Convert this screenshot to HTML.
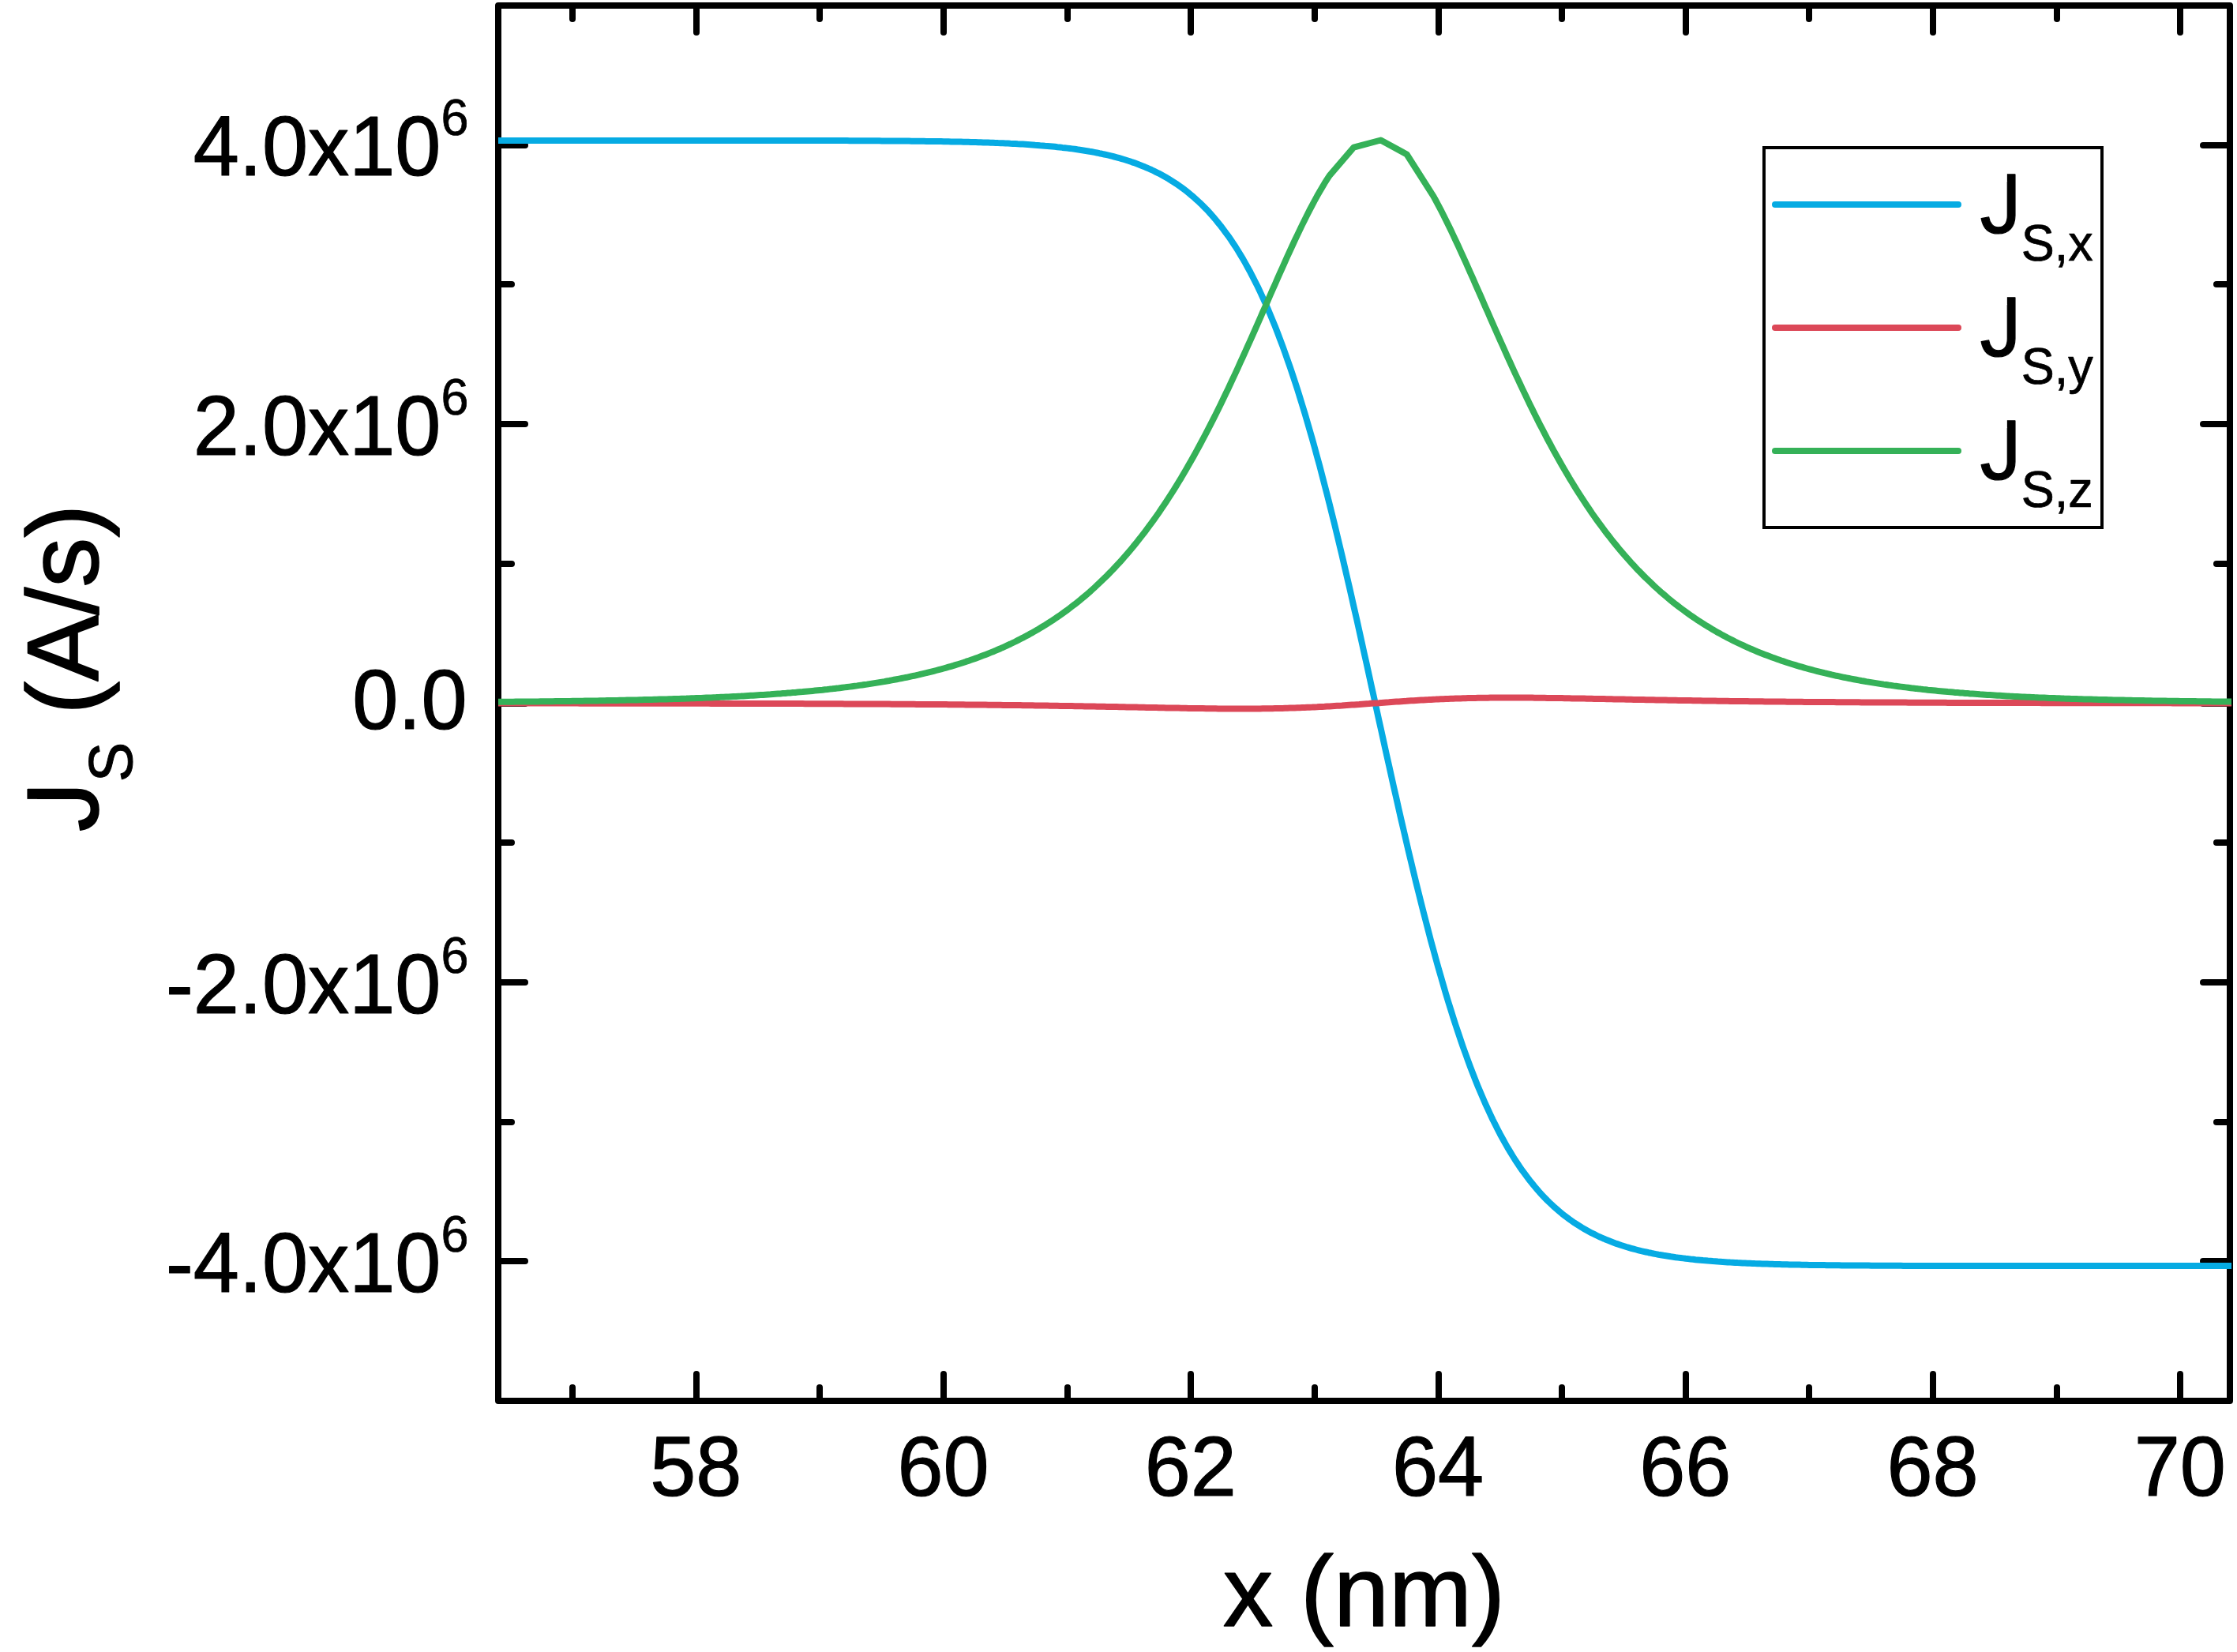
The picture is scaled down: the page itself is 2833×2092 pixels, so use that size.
<!DOCTYPE html>
<html><head><meta charset="utf-8"><title>J_S vs x</title>
<style>html,body{margin:0;padding:0;background:#fff;}svg{display:block;}</style></head>
<body>
<svg width="2833" height="2092" viewBox="0 0 2833 2092">
<rect x="0" y="0" width="2833" height="2092" fill="#ffffff"/>
<g stroke="#000" stroke-width="8" fill="none" stroke-linecap="round" stroke-linejoin="round">
<rect x="631.0" y="7.0" width="2193.0" height="1767.0"/>
<line x1="725.00" y1="1774.0" x2="725.00" y2="1757.0"/>
<line x1="725.00" y1="7.0" x2="725.00" y2="24.0"/>
<line x1="882.00" y1="1774.0" x2="882.00" y2="1740.0"/>
<line x1="882.00" y1="7.0" x2="882.00" y2="41.0"/>
<line x1="1038.00" y1="1774.0" x2="1038.00" y2="1757.0"/>
<line x1="1038.00" y1="7.0" x2="1038.00" y2="24.0"/>
<line x1="1195.00" y1="1774.0" x2="1195.00" y2="1740.0"/>
<line x1="1195.00" y1="7.0" x2="1195.00" y2="41.0"/>
<line x1="1352.00" y1="1774.0" x2="1352.00" y2="1757.0"/>
<line x1="1352.00" y1="7.0" x2="1352.00" y2="24.0"/>
<line x1="1508.00" y1="1774.0" x2="1508.00" y2="1740.0"/>
<line x1="1508.00" y1="7.0" x2="1508.00" y2="41.0"/>
<line x1="1665.00" y1="1774.0" x2="1665.00" y2="1757.0"/>
<line x1="1665.00" y1="7.0" x2="1665.00" y2="24.0"/>
<line x1="1822.00" y1="1774.0" x2="1822.00" y2="1740.0"/>
<line x1="1822.00" y1="7.0" x2="1822.00" y2="41.0"/>
<line x1="1978.00" y1="1774.0" x2="1978.00" y2="1757.0"/>
<line x1="1978.00" y1="7.0" x2="1978.00" y2="24.0"/>
<line x1="2135.00" y1="1774.0" x2="2135.00" y2="1740.0"/>
<line x1="2135.00" y1="7.0" x2="2135.00" y2="41.0"/>
<line x1="2291.00" y1="1774.0" x2="2291.00" y2="1757.0"/>
<line x1="2291.00" y1="7.0" x2="2291.00" y2="24.0"/>
<line x1="2448.00" y1="1774.0" x2="2448.00" y2="1740.0"/>
<line x1="2448.00" y1="7.0" x2="2448.00" y2="41.0"/>
<line x1="2605.00" y1="1774.0" x2="2605.00" y2="1757.0"/>
<line x1="2605.00" y1="7.0" x2="2605.00" y2="24.0"/>
<line x1="2761.00" y1="1774.0" x2="2761.00" y2="1740.0"/>
<line x1="2761.00" y1="7.0" x2="2761.00" y2="41.0"/>
<line x1="631.0" y1="1597.00" x2="665.0" y2="1597.00"/>
<line x1="2824.0" y1="1597.00" x2="2790.0" y2="1597.00"/>
<line x1="631.0" y1="1421.00" x2="648.0" y2="1421.00"/>
<line x1="2824.0" y1="1421.00" x2="2807.0" y2="1421.00"/>
<line x1="631.0" y1="1244.00" x2="665.0" y2="1244.00"/>
<line x1="2824.0" y1="1244.00" x2="2790.0" y2="1244.00"/>
<line x1="631.0" y1="1067.00" x2="648.0" y2="1067.00"/>
<line x1="2824.0" y1="1067.00" x2="2807.0" y2="1067.00"/>
<line x1="631.0" y1="891.00" x2="665.0" y2="891.00"/>
<line x1="2824.0" y1="891.00" x2="2790.0" y2="891.00"/>
<line x1="631.0" y1="714.00" x2="648.0" y2="714.00"/>
<line x1="2824.0" y1="714.00" x2="2807.0" y2="714.00"/>
<line x1="631.0" y1="537.00" x2="665.0" y2="537.00"/>
<line x1="2824.0" y1="537.00" x2="2790.0" y2="537.00"/>
<line x1="631.0" y1="360.00" x2="648.0" y2="360.00"/>
<line x1="2824.0" y1="360.00" x2="2807.0" y2="360.00"/>
<line x1="631.0" y1="184.00" x2="665.0" y2="184.00"/>
<line x1="2824.0" y1="184.00" x2="2790.0" y2="184.00"/>
</g>
<clipPath id="cp"><rect x="631.0" y="7.0" width="2195.0" height="1767.0"/></clipPath>
<g clip-path="url(#cp)" fill="none" stroke-width="8" stroke-linejoin="round" stroke-linecap="butt">
<path d="M568.6,177.9 L571.7,177.9 L574.8,177.9 L578.0,177.9 L581.1,177.9 L584.2,177.9 L587.4,177.9 L590.5,177.9 L593.6,177.9 L596.8,177.9 L599.9,177.9 L603.0,177.9 L606.1,177.9 L609.3,177.9 L612.4,177.9 L615.5,177.9 L618.7,177.9 L621.8,177.9 L624.9,177.9 L628.1,177.9 L631.2,177.9 L634.3,177.9 L637.5,177.9 L640.6,177.9 L643.7,177.9 L646.9,177.9 L650.0,177.9 L653.1,177.9 L656.3,177.9 L659.4,177.9 L662.5,177.9 L665.7,177.9 L668.8,177.9 L671.9,177.9 L675.1,177.9 L678.2,177.9 L681.3,177.9 L684.5,177.9 L687.6,177.9 L690.7,177.9 L693.9,177.9 L697.0,177.9 L700.1,177.9 L703.3,177.9 L706.4,177.9 L709.5,177.9 L712.7,177.9 L715.8,177.9 L718.9,177.9 L722.0,177.9 L725.2,177.9 L728.3,177.9 L731.4,177.9 L734.6,177.9 L737.7,177.9 L740.8,177.9 L744.0,177.9 L747.1,177.9 L750.2,177.9 L753.4,177.9 L756.5,177.9 L759.6,177.9 L762.8,177.9 L765.9,177.9 L769.0,177.9 L772.2,177.9 L775.3,177.9 L778.4,177.9 L781.6,177.9 L784.7,177.9 L787.8,177.9 L791.0,177.9 L794.1,177.9 L797.2,177.9 L800.4,177.9 L803.5,177.9 L806.6,177.9 L809.8,177.9 L812.9,177.9 L816.0,177.9 L819.2,177.9 L822.3,177.9 L825.4,177.9 L828.5,177.9 L831.7,177.9 L834.8,177.9 L837.9,177.9 L841.1,177.9 L844.2,177.9 L847.3,177.9 L850.5,177.9 L853.6,177.9 L856.7,177.9 L859.9,177.9 L863.0,177.9 L866.1,177.9 L869.3,177.9 L872.4,177.9 L875.5,177.9 L878.7,177.9 L881.8,177.9 L884.9,177.9 L888.1,177.9 L891.2,177.9 L894.3,177.9 L897.5,177.9 L900.6,177.9 L903.7,177.9 L906.9,177.9 L910.0,177.9 L913.1,177.9 L916.3,177.9 L919.4,177.9 L922.5,177.9 L925.7,177.9 L928.8,177.9 L931.9,177.9 L935.1,177.9 L938.2,177.9 L941.3,177.9 L944.4,177.9 L947.6,177.9 L950.7,177.9 L953.8,177.9 L957.0,177.9 L960.1,177.9 L963.2,177.9 L966.4,177.9 L969.5,177.9 L972.6,177.9 L975.8,177.9 L978.9,178.0 L982.0,178.0 L985.2,178.0 L988.3,178.0 L991.4,178.0 L994.6,178.0 L997.7,178.0 L1000.8,178.0 L1004.0,178.0 L1007.1,178.0 L1010.2,178.0 L1013.4,178.0 L1016.5,178.0 L1019.6,178.0 L1022.8,178.0 L1025.9,178.0 L1029.0,178.0 L1032.2,178.0 L1035.3,178.0 L1038.4,178.0 L1041.6,178.1 L1044.7,178.1 L1047.8,178.1 L1050.9,178.1 L1054.1,178.1 L1057.2,178.1 L1060.3,178.1 L1063.5,178.1 L1066.6,178.1 L1069.7,178.1 L1072.9,178.1 L1076.0,178.2 L1079.1,178.2 L1082.3,178.2 L1085.4,178.2 L1088.5,178.2 L1091.7,178.2 L1094.8,178.2 L1097.9,178.3 L1101.1,178.3 L1104.2,178.3 L1107.3,178.3 L1110.5,178.3 L1113.6,178.3 L1116.7,178.4 L1119.9,178.4 L1123.0,178.4 L1126.1,178.4 L1129.3,178.4 L1132.4,178.5 L1135.5,178.5 L1138.7,178.5 L1141.8,178.5 L1144.9,178.6 L1148.1,178.6 L1151.2,178.6 L1154.3,178.7 L1157.5,178.7 L1160.6,178.7 L1163.7,178.8 L1166.8,178.8 L1170.0,178.8 L1173.1,178.9 L1176.2,178.9 L1179.4,179.0 L1182.5,179.0 L1185.6,179.0 L1188.8,179.1 L1191.9,179.1 L1195.0,179.2 L1198.2,179.2 L1201.3,179.3 L1204.4,179.4 L1207.6,179.4 L1210.7,179.5 L1213.8,179.6 L1217.0,179.6 L1220.1,179.7 L1223.2,179.8 L1226.4,179.8 L1229.5,179.9 L1232.6,180.0 L1235.8,180.1 L1238.9,180.2 L1242.0,180.3 L1245.2,180.4 L1248.3,180.5 L1251.4,180.6 L1254.6,180.7 L1257.7,180.8 L1260.8,180.9 L1264.0,181.1 L1267.1,181.2 L1270.2,181.3 L1273.4,181.5 L1276.5,181.6 L1279.6,181.8 L1282.7,181.9 L1285.9,182.1 L1289.0,182.3 L1292.1,182.4 L1295.3,182.6 L1298.4,182.8 L1301.5,183.0 L1304.7,183.2 L1307.8,183.4 L1310.9,183.7 L1314.1,183.9 L1317.2,184.2 L1320.3,184.4 L1323.5,184.7 L1326.6,184.9 L1329.7,185.2 L1332.9,185.5 L1336.0,185.8 L1339.1,186.2 L1342.3,186.5 L1345.4,186.9 L1348.5,187.2 L1351.7,187.6 L1354.8,188.0 L1357.9,188.4 L1361.1,188.8 L1364.2,189.3 L1367.3,189.7 L1370.5,190.2 L1373.6,190.7 L1376.7,191.2 L1379.9,191.8 L1383.0,192.3 L1386.1,192.9 L1389.2,193.5 L1392.4,194.2 L1395.5,194.8 L1398.6,195.5 L1401.8,196.2 L1404.9,196.9 L1408.0,197.7 L1411.2,198.5 L1414.3,199.3 L1417.4,200.2 L1420.6,201.1 L1423.7,202.0 L1426.8,203.0 L1430.0,204.0 L1433.1,205.1 L1436.2,206.1 L1439.4,207.3 L1442.5,208.5 L1445.6,209.7 L1448.8,210.9 L1451.9,212.3 L1455.0,213.6 L1458.2,215.0 L1461.3,216.5 L1464.4,218.1 L1467.6,219.6 L1470.7,221.3 L1473.8,223.0 L1477.0,224.8 L1480.1,226.6 L1483.2,228.6 L1486.4,230.6 L1489.5,232.6 L1492.6,234.8 L1495.8,237.0 L1498.9,239.3 L1502.0,241.7 L1505.1,244.2 L1508.3,246.8 L1511.4,249.4 L1514.5,252.2 L1517.7,255.1 L1520.8,258.0 L1523.9,261.1 L1527.1,264.3 L1530.2,267.6 L1533.3,271.0 L1536.5,274.6 L1539.6,278.3 L1542.7,282.1 L1545.9,286.0 L1549.0,290.1 L1552.1,294.3 L1555.3,298.6 L1558.4,303.1 L1561.5,307.7 L1564.7,312.5 L1567.8,317.5 L1570.9,322.6 L1574.1,327.9 L1577.2,333.4 L1580.3,339.0 L1583.5,344.8 L1586.6,350.8 L1589.7,357.0 L1592.9,363.3 L1596.0,369.9 L1599.1,376.6 L1602.3,383.5 L1605.4,390.7 L1608.5,398.0 L1611.6,405.6 L1614.8,413.3 L1617.9,421.3 L1621.0,429.5 L1624.2,437.9 L1627.3,446.5 L1630.4,455.3 L1633.6,464.4 L1636.7,473.6 L1639.8,483.1 L1643.0,492.8 L1646.1,502.7 L1649.2,512.9 L1652.4,523.2 L1655.5,533.8 L1658.6,544.6 L1661.8,555.6 L1664.9,566.8 L1668.0,578.2 L1671.2,589.8 L1674.3,601.7 L1677.4,613.7 L1680.6,625.9 L1683.7,638.2 L1686.8,650.8 L1690.0,663.5 L1693.1,676.4 L1696.2,689.4 L1699.4,702.6 L1702.5,716.0 L1705.6,729.4 L1708.8,743.0 L1711.9,756.7 L1715.0,770.5 L1718.2,784.4 L1721.3,798.4 L1724.4,812.4 L1727.5,826.5 L1730.7,840.7 L1733.8,854.9 L1736.9,869.1 L1740.1,883.4 L1743.2,897.6 L1746.3,911.9 L1749.5,926.1 L1752.6,940.3 L1755.7,954.5 L1758.9,968.6 L1762.0,982.6 L1765.1,996.6 L1768.3,1010.5 L1771.4,1024.3 L1774.5,1038.0 L1777.7,1051.6 L1780.8,1065.0 L1783.9,1078.4 L1787.1,1091.6 L1790.2,1104.6 L1793.3,1117.5 L1796.5,1130.2 L1799.6,1142.8 L1802.7,1155.1 L1805.9,1167.3 L1809.0,1179.3 L1812.1,1191.2 L1815.3,1202.8 L1818.4,1214.2 L1821.5,1225.4 L1824.7,1236.4 L1827.8,1247.2 L1830.9,1257.8 L1834.0,1268.1 L1837.2,1278.3 L1840.3,1288.2 L1843.4,1297.9 L1846.6,1307.4 L1849.7,1316.6 L1852.8,1325.7 L1856.0,1334.5 L1859.1,1343.1 L1862.2,1351.5 L1865.4,1359.7 L1868.5,1367.7 L1871.6,1375.4 L1874.8,1383.0 L1877.9,1390.3 L1881.0,1397.5 L1884.2,1404.4 L1887.3,1411.1 L1890.4,1417.7 L1893.6,1424.0 L1896.7,1430.2 L1899.8,1436.2 L1903.0,1442.0 L1906.1,1447.6 L1909.2,1453.1 L1912.4,1458.4 L1915.5,1463.5 L1918.6,1468.5 L1921.8,1473.3 L1924.9,1477.9 L1928.0,1482.4 L1931.2,1486.7 L1934.3,1490.9 L1937.4,1495.0 L1940.6,1498.9 L1943.7,1502.7 L1946.8,1506.4 L1949.9,1510.0 L1953.1,1513.4 L1956.2,1516.7 L1959.3,1519.9 L1962.5,1523.0 L1965.6,1525.9 L1968.7,1528.8 L1971.9,1531.6 L1975.0,1534.2 L1978.1,1536.8 L1981.3,1539.3 L1984.4,1541.7 L1987.5,1544.0 L1990.7,1546.2 L1993.8,1548.4 L1996.9,1550.4 L2000.1,1552.4 L2003.2,1554.4 L2006.3,1556.2 L2009.5,1558.0 L2012.6,1559.7 L2015.7,1561.4 L2018.9,1562.9 L2022.0,1564.5 L2025.1,1566.0 L2028.3,1567.4 L2031.4,1568.7 L2034.5,1570.1 L2037.7,1571.3 L2040.8,1572.5 L2043.9,1573.7 L2047.1,1574.9 L2050.2,1575.9 L2053.3,1577.0 L2056.5,1578.0 L2059.6,1579.0 L2062.7,1579.9 L2065.8,1580.8 L2069.0,1581.7 L2072.1,1582.5 L2075.2,1583.3 L2078.4,1584.1 L2081.5,1584.8 L2084.6,1585.5 L2087.8,1586.2 L2090.9,1586.8 L2094.0,1587.5 L2097.2,1588.1 L2100.3,1588.7 L2103.4,1589.2 L2106.6,1589.8 L2109.7,1590.3 L2112.8,1590.8 L2116.0,1591.3 L2119.1,1591.7 L2122.2,1592.2 L2125.4,1592.6 L2128.5,1593.0 L2131.6,1593.4 L2134.8,1593.8 L2137.9,1594.1 L2141.0,1594.5 L2144.2,1594.8 L2147.3,1595.2 L2150.4,1595.5 L2153.6,1595.8 L2156.7,1596.1 L2159.8,1596.3 L2163.0,1596.6 L2166.1,1596.8 L2169.2,1597.1 L2172.3,1597.3 L2175.5,1597.6 L2178.6,1597.8 L2181.7,1598.0 L2184.9,1598.2 L2188.0,1598.4 L2191.1,1598.6 L2194.3,1598.7 L2197.4,1598.9 L2200.5,1599.1 L2203.7,1599.2 L2206.8,1599.4 L2209.9,1599.5 L2213.1,1599.7 L2216.2,1599.8 L2219.3,1599.9 L2222.5,1600.1 L2225.6,1600.2 L2228.7,1600.3 L2231.9,1600.4 L2235.0,1600.5 L2238.1,1600.6 L2241.3,1600.7 L2244.4,1600.8 L2247.5,1600.9 L2250.7,1601.0 L2253.8,1601.1 L2256.9,1601.2 L2260.1,1601.2 L2263.2,1601.3 L2266.3,1601.4 L2269.5,1601.4 L2272.6,1601.5 L2275.7,1601.6 L2278.9,1601.6 L2282.0,1601.7 L2285.1,1601.8 L2288.2,1601.8 L2291.4,1601.9 L2294.5,1601.9 L2297.6,1602.0 L2300.8,1602.0 L2303.9,1602.0 L2307.0,1602.1 L2310.2,1602.1 L2313.3,1602.2 L2316.4,1602.2 L2319.6,1602.2 L2322.7,1602.3 L2325.8,1602.3 L2329.0,1602.3 L2332.1,1602.4 L2335.2,1602.4 L2338.4,1602.4 L2341.5,1602.5 L2344.6,1602.5 L2347.8,1602.5 L2350.9,1602.5 L2354.0,1602.6 L2357.2,1602.6 L2360.3,1602.6 L2363.4,1602.6 L2366.6,1602.6 L2369.7,1602.7 L2372.8,1602.7 L2376.0,1602.7 L2379.1,1602.7 L2382.2,1602.7 L2385.4,1602.7 L2388.5,1602.8 L2391.6,1602.8 L2394.7,1602.8 L2397.9,1602.8 L2401.0,1602.8 L2404.1,1602.8 L2407.3,1602.8 L2410.4,1602.9 L2413.5,1602.9 L2416.7,1602.9 L2419.8,1602.9 L2422.9,1602.9 L2426.1,1602.9 L2429.2,1602.9 L2432.3,1602.9 L2435.5,1602.9 L2438.6,1602.9 L2441.7,1602.9 L2444.9,1603.0 L2448.0,1603.0 L2451.1,1603.0 L2454.3,1603.0 L2457.4,1603.0 L2460.5,1603.0 L2463.7,1603.0 L2466.8,1603.0 L2469.9,1603.0 L2473.1,1603.0 L2476.2,1603.0 L2479.3,1603.0 L2482.5,1603.0 L2485.6,1603.0 L2488.7,1603.0 L2491.9,1603.0 L2495.0,1603.0 L2498.1,1603.0 L2501.3,1603.0 L2504.4,1603.0 L2507.5,1603.1 L2510.6,1603.1 L2513.8,1603.1 L2516.9,1603.1 L2520.0,1603.1 L2523.2,1603.1 L2526.3,1603.1 L2529.4,1603.1 L2532.6,1603.1 L2535.7,1603.1 L2538.8,1603.1 L2542.0,1603.1 L2545.1,1603.1 L2548.2,1603.1 L2551.4,1603.1 L2554.5,1603.1 L2557.6,1603.1 L2560.8,1603.1 L2563.9,1603.1 L2567.0,1603.1 L2570.2,1603.1 L2573.3,1603.1 L2576.4,1603.1 L2579.6,1603.1 L2582.7,1603.1 L2585.8,1603.1 L2589.0,1603.1 L2592.1,1603.1 L2595.2,1603.1 L2598.4,1603.1 L2601.5,1603.1 L2604.6,1603.1 L2607.8,1603.1 L2610.9,1603.1 L2614.0,1603.1 L2617.1,1603.1 L2620.3,1603.1 L2623.4,1603.1 L2626.5,1603.1 L2629.7,1603.1 L2632.8,1603.1 L2635.9,1603.1 L2639.1,1603.1 L2642.2,1603.1 L2645.3,1603.1 L2648.5,1603.1 L2651.6,1603.1 L2654.7,1603.1 L2657.9,1603.1 L2661.0,1603.1 L2664.1,1603.1 L2667.3,1603.1 L2670.4,1603.1 L2673.5,1603.1 L2676.7,1603.1 L2679.8,1603.1 L2682.9,1603.1 L2686.1,1603.1 L2689.2,1603.1 L2692.3,1603.1 L2695.5,1603.1 L2698.6,1603.1 L2701.7,1603.1 L2704.9,1603.1 L2708.0,1603.1 L2711.1,1603.1 L2714.3,1603.1 L2717.4,1603.1 L2720.5,1603.1 L2723.7,1603.1 L2726.8,1603.1 L2729.9,1603.1 L2733.0,1603.1 L2736.2,1603.1 L2739.3,1603.1 L2742.4,1603.1 L2745.6,1603.1 L2748.7,1603.1 L2751.8,1603.1 L2755.0,1603.1 L2758.1,1603.1 L2761.2,1603.1 L2764.4,1603.1 L2767.5,1603.1 L2770.6,1603.1 L2773.8,1603.1 L2776.9,1603.1 L2780.0,1603.1 L2783.2,1603.1 L2786.3,1603.1 L2789.4,1603.1 L2792.6,1603.1 L2795.7,1603.1 L2798.8,1603.1 L2802.0,1603.1 L2805.1,1603.1 L2808.2,1603.1 L2811.4,1603.1 L2814.5,1603.1 L2817.6,1603.1 L2820.8,1603.1 L2823.9,1603.1 L2827.0,1603.1 L2830.2,1603.1 L2833.3,1603.1 L2836.4,1603.1 L2839.5,1603.1 L2842.7,1603.1 L2845.8,1603.1 L2848.9,1603.1 L2852.1,1603.1 L2855.2,1603.1 L2858.3,1603.1 L2861.5,1603.1 L2864.6,1603.1 L2867.7,1603.1 L2870.9,1603.1 L2874.0,1603.1 L2877.1,1603.1 L2880.3,1603.1 L2883.4,1603.1 L2886.5,1603.1 L2889.7,1603.1 L2892.8,1603.1 L2895.9,1603.1 L2899.1,1603.1 L2902.2,1603.1" stroke="#06ABE3"/>
<path d="M568.6,890.6 L571.7,890.6 L574.8,890.6 L578.0,890.6 L581.1,890.6 L584.2,890.6 L587.4,890.6 L590.5,890.6 L593.6,890.6 L596.8,890.6 L599.9,890.6 L603.0,890.6 L606.1,890.6 L609.3,890.6 L612.4,890.6 L615.5,890.6 L618.7,890.6 L621.8,890.6 L624.9,890.6 L628.1,890.6 L631.2,890.6 L634.3,890.6 L637.5,890.6 L640.6,890.6 L643.7,890.6 L646.9,890.6 L650.0,890.6 L653.1,890.6 L656.3,890.6 L659.4,890.6 L662.5,890.6 L665.7,890.6 L668.8,890.6 L671.9,890.6 L675.1,890.6 L678.2,890.6 L681.3,890.6 L684.5,890.6 L687.6,890.6 L690.7,890.6 L693.9,890.6 L697.0,890.6 L700.1,890.6 L703.3,890.6 L706.4,890.6 L709.5,890.6 L712.7,890.6 L715.8,890.6 L718.9,890.6 L722.0,890.6 L725.2,890.6 L728.3,890.6 L731.4,890.6 L734.6,890.7 L737.7,890.7 L740.8,890.7 L744.0,890.7 L747.1,890.7 L750.2,890.7 L753.4,890.7 L756.5,890.7 L759.6,890.7 L762.8,890.7 L765.9,890.7 L769.0,890.7 L772.2,890.7 L775.3,890.7 L778.4,890.7 L781.6,890.7 L784.7,890.7 L787.8,890.7 L791.0,890.7 L794.1,890.7 L797.2,890.7 L800.4,890.7 L803.5,890.7 L806.6,890.7 L809.8,890.7 L812.9,890.7 L816.0,890.7 L819.2,890.7 L822.3,890.7 L825.4,890.7 L828.5,890.7 L831.7,890.7 L834.8,890.8 L837.9,890.8 L841.1,890.8 L844.2,890.8 L847.3,890.8 L850.5,890.8 L853.6,890.8 L856.7,890.8 L859.9,890.8 L863.0,890.8 L866.1,890.8 L869.3,890.8 L872.4,890.8 L875.5,890.8 L878.7,890.8 L881.8,890.8 L884.9,890.8 L888.1,890.8 L891.2,890.8 L894.3,890.8 L897.5,890.8 L900.6,890.9 L903.7,890.9 L906.9,890.9 L910.0,890.9 L913.1,890.9 L916.3,890.9 L919.4,890.9 L922.5,890.9 L925.7,890.9 L928.8,890.9 L931.9,890.9 L935.1,890.9 L938.2,890.9 L941.3,890.9 L944.4,890.9 L947.6,891.0 L950.7,891.0 L953.8,891.0 L957.0,891.0 L960.1,891.0 L963.2,891.0 L966.4,891.0 L969.5,891.0 L972.6,891.0 L975.8,891.0 L978.9,891.0 L982.0,891.0 L985.2,891.1 L988.3,891.1 L991.4,891.1 L994.6,891.1 L997.7,891.1 L1000.8,891.1 L1004.0,891.1 L1007.1,891.1 L1010.2,891.1 L1013.4,891.1 L1016.5,891.1 L1019.6,891.2 L1022.8,891.2 L1025.9,891.2 L1029.0,891.2 L1032.2,891.2 L1035.3,891.2 L1038.4,891.2 L1041.6,891.2 L1044.7,891.2 L1047.8,891.3 L1050.9,891.3 L1054.1,891.3 L1057.2,891.3 L1060.3,891.3 L1063.5,891.3 L1066.6,891.3 L1069.7,891.4 L1072.9,891.4 L1076.0,891.4 L1079.1,891.4 L1082.3,891.4 L1085.4,891.4 L1088.5,891.4 L1091.7,891.5 L1094.8,891.5 L1097.9,891.5 L1101.1,891.5 L1104.2,891.5 L1107.3,891.5 L1110.5,891.6 L1113.6,891.6 L1116.7,891.6 L1119.9,891.6 L1123.0,891.6 L1126.1,891.6 L1129.3,891.7 L1132.4,891.7 L1135.5,891.7 L1138.7,891.7 L1141.8,891.7 L1144.9,891.8 L1148.1,891.8 L1151.2,891.8 L1154.3,891.8 L1157.5,891.8 L1160.6,891.9 L1163.7,891.9 L1166.8,891.9 L1170.0,891.9 L1173.1,892.0 L1176.2,892.0 L1179.4,892.0 L1182.5,892.0 L1185.6,892.0 L1188.8,892.1 L1191.9,892.1 L1195.0,892.1 L1198.2,892.1 L1201.3,892.2 L1204.4,892.2 L1207.6,892.2 L1210.7,892.3 L1213.8,892.3 L1217.0,892.3 L1220.1,892.3 L1223.2,892.4 L1226.4,892.4 L1229.5,892.4 L1232.6,892.5 L1235.8,892.5 L1238.9,892.5 L1242.0,892.6 L1245.2,892.6 L1248.3,892.6 L1251.4,892.7 L1254.6,892.7 L1257.7,892.7 L1260.8,892.8 L1264.0,892.8 L1267.1,892.8 L1270.2,892.9 L1273.4,892.9 L1276.5,892.9 L1279.6,893.0 L1282.7,893.0 L1285.9,893.1 L1289.0,893.1 L1292.1,893.1 L1295.3,893.2 L1298.4,893.2 L1301.5,893.3 L1304.7,893.3 L1307.8,893.3 L1310.9,893.4 L1314.1,893.4 L1317.2,893.5 L1320.3,893.5 L1323.5,893.6 L1326.6,893.6 L1329.7,893.7 L1332.9,893.7 L1336.0,893.8 L1339.1,893.8 L1342.3,893.9 L1345.4,893.9 L1348.5,894.0 L1351.7,894.0 L1354.8,894.1 L1357.9,894.1 L1361.1,894.2 L1364.2,894.2 L1367.3,894.3 L1370.5,894.3 L1373.6,894.4 L1376.7,894.4 L1379.9,894.5 L1383.0,894.5 L1386.1,894.6 L1389.2,894.7 L1392.4,894.7 L1395.5,894.8 L1398.6,894.8 L1401.8,894.9 L1404.9,895.0 L1408.0,895.0 L1411.2,895.1 L1414.3,895.1 L1417.4,895.2 L1420.6,895.3 L1423.7,895.3 L1426.8,895.4 L1430.0,895.4 L1433.1,895.5 L1436.2,895.6 L1439.4,895.6 L1442.5,895.7 L1445.6,895.7 L1448.8,895.8 L1451.9,895.9 L1455.0,895.9 L1458.2,896.0 L1461.3,896.1 L1464.4,896.1 L1467.6,896.2 L1470.7,896.2 L1473.8,896.3 L1477.0,896.4 L1480.1,896.4 L1483.2,896.5 L1486.4,896.5 L1489.5,896.6 L1492.6,896.6 L1495.8,896.7 L1498.9,896.8 L1502.0,896.8 L1505.1,896.9 L1508.3,896.9 L1511.4,897.0 L1514.5,897.0 L1517.7,897.1 L1520.8,897.1 L1523.9,897.1 L1527.1,897.2 L1530.2,897.2 L1533.3,897.3 L1536.5,897.3 L1539.6,897.3 L1542.7,897.4 L1545.9,897.4 L1549.0,897.4 L1552.1,897.4 L1555.3,897.4 L1558.4,897.5 L1561.5,897.5 L1564.7,897.5 L1567.8,897.5 L1570.9,897.5 L1574.1,897.5 L1577.2,897.5 L1580.3,897.5 L1583.5,897.5 L1586.6,897.5 L1589.7,897.4 L1592.9,897.4 L1596.0,897.4 L1599.1,897.3 L1602.3,897.3 L1605.4,897.3 L1608.5,897.2 L1611.6,897.2 L1614.8,897.1 L1617.9,897.0 L1621.0,897.0 L1624.2,896.9 L1627.3,896.8 L1630.4,896.7 L1633.6,896.6 L1636.7,896.5 L1639.8,896.4 L1643.0,896.3 L1646.1,896.2 L1649.2,896.1 L1652.4,896.0 L1655.5,895.8 L1658.6,895.7 L1661.8,895.6 L1664.9,895.4 L1668.0,895.3 L1671.2,895.1 L1674.3,894.9 L1677.4,894.8 L1680.6,894.6 L1683.7,894.4 L1686.8,894.2 L1690.0,894.0 L1693.1,893.8 L1696.2,893.7 L1699.4,893.5 L1702.5,893.2 L1705.6,893.0 L1708.8,892.8 L1711.9,892.6 L1715.0,892.4 L1718.2,892.2 L1721.3,892.0 L1724.4,891.7 L1727.5,891.5 L1730.7,891.3 L1733.8,891.1 L1736.9,890.8 L1740.1,890.6 L1743.2,890.4 L1746.3,890.2 L1749.5,889.9 L1752.6,889.7 L1755.7,889.5 L1758.9,889.3 L1762.0,889.0 L1765.1,888.8 L1768.3,888.6 L1771.4,888.4 L1774.5,888.2 L1777.7,888.0 L1780.8,887.8 L1783.9,887.5 L1787.1,887.3 L1790.2,887.2 L1793.3,887.0 L1796.5,886.8 L1799.6,886.6 L1802.7,886.4 L1805.9,886.2 L1809.0,886.1 L1812.1,885.9 L1815.3,885.7 L1818.4,885.6 L1821.5,885.4 L1824.7,885.3 L1827.8,885.2 L1830.9,885.0 L1834.0,884.9 L1837.2,884.8 L1840.3,884.7 L1843.4,884.6 L1846.6,884.5 L1849.7,884.4 L1852.8,884.3 L1856.0,884.2 L1859.1,884.1 L1862.2,884.0 L1865.4,884.0 L1868.5,883.9 L1871.6,883.8 L1874.8,883.8 L1877.9,883.7 L1881.0,883.7 L1884.2,883.7 L1887.3,883.6 L1890.4,883.6 L1893.6,883.6 L1896.7,883.5 L1899.8,883.5 L1903.0,883.5 L1906.1,883.5 L1909.2,883.5 L1912.4,883.5 L1915.5,883.5 L1918.6,883.5 L1921.8,883.5 L1924.9,883.5 L1928.0,883.6 L1931.2,883.6 L1934.3,883.6 L1937.4,883.6 L1940.6,883.6 L1943.7,883.7 L1946.8,883.7 L1949.9,883.7 L1953.1,883.8 L1956.2,883.8 L1959.3,883.9 L1962.5,883.9 L1965.6,883.9 L1968.7,884.0 L1971.9,884.0 L1975.0,884.1 L1978.1,884.1 L1981.3,884.2 L1984.4,884.2 L1987.5,884.3 L1990.7,884.4 L1993.8,884.4 L1996.9,884.5 L2000.1,884.5 L2003.2,884.6 L2006.3,884.6 L2009.5,884.7 L2012.6,884.8 L2015.7,884.8 L2018.9,884.9 L2022.0,884.9 L2025.1,885.0 L2028.3,885.1 L2031.4,885.1 L2034.5,885.2 L2037.7,885.3 L2040.8,885.3 L2043.9,885.4 L2047.1,885.4 L2050.2,885.5 L2053.3,885.6 L2056.5,885.6 L2059.6,885.7 L2062.7,885.7 L2065.8,885.8 L2069.0,885.9 L2072.1,885.9 L2075.2,886.0 L2078.4,886.0 L2081.5,886.1 L2084.6,886.2 L2087.8,886.2 L2090.9,886.3 L2094.0,886.3 L2097.2,886.4 L2100.3,886.5 L2103.4,886.5 L2106.6,886.6 L2109.7,886.6 L2112.8,886.7 L2116.0,886.7 L2119.1,886.8 L2122.2,886.8 L2125.4,886.9 L2128.5,886.9 L2131.6,887.0 L2134.8,887.0 L2137.9,887.1 L2141.0,887.1 L2144.2,887.2 L2147.3,887.2 L2150.4,887.3 L2153.6,887.3 L2156.7,887.4 L2159.8,887.4 L2163.0,887.5 L2166.1,887.5 L2169.2,887.6 L2172.3,887.6 L2175.5,887.7 L2178.6,887.7 L2181.7,887.7 L2184.9,887.8 L2188.0,887.8 L2191.1,887.9 L2194.3,887.9 L2197.4,887.9 L2200.5,888.0 L2203.7,888.0 L2206.8,888.1 L2209.9,888.1 L2213.1,888.1 L2216.2,888.2 L2219.3,888.2 L2222.5,888.2 L2225.6,888.3 L2228.7,888.3 L2231.9,888.3 L2235.0,888.4 L2238.1,888.4 L2241.3,888.4 L2244.4,888.5 L2247.5,888.5 L2250.7,888.5 L2253.8,888.6 L2256.9,888.6 L2260.1,888.6 L2263.2,888.7 L2266.3,888.7 L2269.5,888.7 L2272.6,888.7 L2275.7,888.8 L2278.9,888.8 L2282.0,888.8 L2285.1,888.9 L2288.2,888.9 L2291.4,888.9 L2294.5,888.9 L2297.6,889.0 L2300.8,889.0 L2303.9,889.0 L2307.0,889.0 L2310.2,889.0 L2313.3,889.1 L2316.4,889.1 L2319.6,889.1 L2322.7,889.1 L2325.8,889.2 L2329.0,889.2 L2332.1,889.2 L2335.2,889.2 L2338.4,889.2 L2341.5,889.3 L2344.6,889.3 L2347.8,889.3 L2350.9,889.3 L2354.0,889.3 L2357.2,889.4 L2360.3,889.4 L2363.4,889.4 L2366.6,889.4 L2369.7,889.4 L2372.8,889.4 L2376.0,889.5 L2379.1,889.5 L2382.2,889.5 L2385.4,889.5 L2388.5,889.5 L2391.6,889.5 L2394.7,889.6 L2397.9,889.6 L2401.0,889.6 L2404.1,889.6 L2407.3,889.6 L2410.4,889.6 L2413.5,889.6 L2416.7,889.7 L2419.8,889.7 L2422.9,889.7 L2426.1,889.7 L2429.2,889.7 L2432.3,889.7 L2435.5,889.7 L2438.6,889.8 L2441.7,889.8 L2444.9,889.8 L2448.0,889.8 L2451.1,889.8 L2454.3,889.8 L2457.4,889.8 L2460.5,889.8 L2463.7,889.8 L2466.8,889.9 L2469.9,889.9 L2473.1,889.9 L2476.2,889.9 L2479.3,889.9 L2482.5,889.9 L2485.6,889.9 L2488.7,889.9 L2491.9,889.9 L2495.0,889.9 L2498.1,889.9 L2501.3,890.0 L2504.4,890.0 L2507.5,890.0 L2510.6,890.0 L2513.8,890.0 L2516.9,890.0 L2520.0,890.0 L2523.2,890.0 L2526.3,890.0 L2529.4,890.0 L2532.6,890.0 L2535.7,890.0 L2538.8,890.1 L2542.0,890.1 L2545.1,890.1 L2548.2,890.1 L2551.4,890.1 L2554.5,890.1 L2557.6,890.1 L2560.8,890.1 L2563.9,890.1 L2567.0,890.1 L2570.2,890.1 L2573.3,890.1 L2576.4,890.1 L2579.6,890.1 L2582.7,890.1 L2585.8,890.2 L2589.0,890.2 L2592.1,890.2 L2595.2,890.2 L2598.4,890.2 L2601.5,890.2 L2604.6,890.2 L2607.8,890.2 L2610.9,890.2 L2614.0,890.2 L2617.1,890.2 L2620.3,890.2 L2623.4,890.2 L2626.5,890.2 L2629.7,890.2 L2632.8,890.2 L2635.9,890.2 L2639.1,890.2 L2642.2,890.2 L2645.3,890.2 L2648.5,890.2 L2651.6,890.3 L2654.7,890.3 L2657.9,890.3 L2661.0,890.3 L2664.1,890.3 L2667.3,890.3 L2670.4,890.3 L2673.5,890.3 L2676.7,890.3 L2679.8,890.3 L2682.9,890.3 L2686.1,890.3 L2689.2,890.3 L2692.3,890.3 L2695.5,890.3 L2698.6,890.3 L2701.7,890.3 L2704.9,890.3 L2708.0,890.3 L2711.1,890.3 L2714.3,890.3 L2717.4,890.3 L2720.5,890.3 L2723.7,890.3 L2726.8,890.3 L2729.9,890.3 L2733.0,890.3 L2736.2,890.3 L2739.3,890.3 L2742.4,890.3 L2745.6,890.3 L2748.7,890.3 L2751.8,890.4 L2755.0,890.4 L2758.1,890.4 L2761.2,890.4 L2764.4,890.4 L2767.5,890.4 L2770.6,890.4 L2773.8,890.4 L2776.9,890.4 L2780.0,890.4 L2783.2,890.4 L2786.3,890.4 L2789.4,890.4 L2792.6,890.4 L2795.7,890.4 L2798.8,890.4 L2802.0,890.4 L2805.1,890.4 L2808.2,890.4 L2811.4,890.4 L2814.5,890.4 L2817.6,890.4 L2820.8,890.4 L2823.9,890.4 L2827.0,890.4 L2830.2,890.4 L2833.3,890.4 L2836.4,890.4 L2839.5,890.4 L2842.7,890.4 L2845.8,890.4 L2848.9,890.4 L2852.1,890.4 L2855.2,890.4 L2858.3,890.4 L2861.5,890.4 L2864.6,890.4 L2867.7,890.4 L2870.9,890.4 L2874.0,890.4 L2877.1,890.4 L2880.3,890.4 L2883.4,890.4 L2886.5,890.4 L2889.7,890.4 L2892.8,890.4 L2895.9,890.4 L2899.1,890.4 L2902.2,890.4" stroke="#DC4858"/>
<path d="M568.6,889.7 L571.7,889.7 L574.8,889.7 L578.0,889.7 L581.1,889.6 L584.2,889.6 L587.4,889.6 L590.5,889.6 L593.6,889.6 L596.8,889.5 L599.9,889.5 L603.0,889.5 L606.1,889.5 L609.3,889.5 L612.4,889.4 L615.5,889.4 L618.7,889.4 L621.8,889.4 L624.9,889.4 L628.1,889.3 L631.2,889.3 L634.3,889.3 L637.5,889.3 L640.6,889.2 L643.7,889.2 L646.9,889.2 L650.0,889.2 L653.1,889.1 L656.3,889.1 L659.4,889.1 L662.5,889.0 L665.7,889.0 L668.8,889.0 L671.9,889.0 L675.1,888.9 L678.2,888.9 L681.3,888.9 L684.5,888.8 L687.6,888.8 L690.7,888.8 L693.9,888.7 L697.0,888.7 L700.1,888.7 L703.3,888.6 L706.4,888.6 L709.5,888.5 L712.7,888.5 L715.8,888.5 L718.9,888.4 L722.0,888.4 L725.2,888.3 L728.3,888.3 L731.4,888.2 L734.6,888.2 L737.7,888.2 L740.8,888.1 L744.0,888.1 L747.1,888.0 L750.2,888.0 L753.4,887.9 L756.5,887.9 L759.6,887.8 L762.8,887.7 L765.9,887.7 L769.0,887.6 L772.2,887.6 L775.3,887.5 L778.4,887.5 L781.6,887.4 L784.7,887.3 L787.8,887.3 L791.0,887.2 L794.1,887.1 L797.2,887.1 L800.4,887.0 L803.5,886.9 L806.6,886.9 L809.8,886.8 L812.9,886.7 L816.0,886.6 L819.2,886.5 L822.3,886.5 L825.4,886.4 L828.5,886.3 L831.7,886.2 L834.8,886.1 L837.9,886.0 L841.1,886.0 L844.2,885.9 L847.3,885.8 L850.5,885.7 L853.6,885.6 L856.7,885.5 L859.9,885.4 L863.0,885.3 L866.1,885.2 L869.3,885.1 L872.4,884.9 L875.5,884.8 L878.7,884.7 L881.8,884.6 L884.9,884.5 L888.1,884.4 L891.2,884.2 L894.3,884.1 L897.5,884.0 L900.6,883.9 L903.7,883.7 L906.9,883.6 L910.0,883.4 L913.1,883.3 L916.3,883.2 L919.4,883.0 L922.5,882.9 L925.7,882.7 L928.8,882.5 L931.9,882.4 L935.1,882.2 L938.2,882.1 L941.3,881.9 L944.4,881.7 L947.6,881.5 L950.7,881.3 L953.8,881.2 L957.0,881.0 L960.1,880.8 L963.2,880.6 L966.4,880.4 L969.5,880.2 L972.6,880.0 L975.8,879.8 L978.9,879.5 L982.0,879.3 L985.2,879.1 L988.3,878.9 L991.4,878.6 L994.6,878.4 L997.7,878.1 L1000.8,877.9 L1004.0,877.6 L1007.1,877.4 L1010.2,877.1 L1013.4,876.8 L1016.5,876.6 L1019.6,876.3 L1022.8,876.0 L1025.9,875.7 L1029.0,875.4 L1032.2,875.1 L1035.3,874.8 L1038.4,874.5 L1041.6,874.2 L1044.7,873.8 L1047.8,873.5 L1050.9,873.1 L1054.1,872.8 L1057.2,872.4 L1060.3,872.1 L1063.5,871.7 L1066.6,871.3 L1069.7,870.9 L1072.9,870.5 L1076.0,870.1 L1079.1,869.7 L1082.3,869.3 L1085.4,868.9 L1088.5,868.4 L1091.7,868.0 L1094.8,867.5 L1097.9,867.1 L1101.1,866.6 L1104.2,866.1 L1107.3,865.6 L1110.5,865.1 L1113.6,864.6 L1116.7,864.1 L1119.9,863.6 L1123.0,863.0 L1126.1,862.5 L1129.3,861.9 L1132.4,861.3 L1135.5,860.7 L1138.7,860.1 L1141.8,859.5 L1144.9,858.9 L1148.1,858.3 L1151.2,857.6 L1154.3,856.9 L1157.5,856.3 L1160.6,855.6 L1163.7,854.9 L1166.8,854.1 L1170.0,853.4 L1173.1,852.7 L1176.2,851.9 L1179.4,851.1 L1182.5,850.3 L1185.6,849.5 L1188.8,848.7 L1191.9,847.9 L1195.0,847.0 L1198.2,846.1 L1201.3,845.2 L1204.4,844.3 L1207.6,843.4 L1210.7,842.4 L1213.8,841.5 L1217.0,840.5 L1220.1,839.5 L1223.2,838.4 L1226.4,837.4 L1229.5,836.3 L1232.6,835.2 L1235.8,834.1 L1238.9,833.0 L1242.0,831.8 L1245.2,830.6 L1248.3,829.4 L1251.4,828.2 L1254.6,826.9 L1257.7,825.7 L1260.8,824.4 L1264.0,823.0 L1267.1,821.7 L1270.2,820.3 L1273.4,818.9 L1276.5,817.4 L1279.6,816.0 L1282.7,814.5 L1285.9,813.0 L1289.0,811.4 L1292.1,809.8 L1295.3,808.2 L1298.4,806.5 L1301.5,804.9 L1304.7,803.1 L1307.8,801.4 L1310.9,799.6 L1314.1,797.8 L1317.2,795.9 L1320.3,794.0 L1323.5,792.1 L1326.6,790.1 L1329.7,788.1 L1332.9,786.1 L1336.0,784.0 L1339.1,781.9 L1342.3,779.7 L1345.4,777.5 L1348.5,775.2 L1351.7,772.9 L1354.8,770.6 L1357.9,768.2 L1361.1,765.8 L1364.2,763.3 L1367.3,760.8 L1370.5,758.2 L1373.6,755.6 L1376.7,752.9 L1379.9,750.2 L1383.0,747.4 L1386.1,744.6 L1389.2,741.7 L1392.4,738.7 L1395.5,735.7 L1398.6,732.7 L1401.8,729.6 L1404.9,726.4 L1408.0,723.2 L1411.2,719.9 L1414.3,716.6 L1417.4,713.2 L1420.6,709.7 L1423.7,706.2 L1426.8,702.6 L1430.0,698.9 L1433.1,695.2 L1436.2,691.4 L1439.4,687.5 L1442.5,683.6 L1445.6,679.6 L1448.8,675.6 L1451.9,671.4 L1455.0,667.2 L1458.2,662.9 L1461.3,658.6 L1464.4,654.2 L1467.6,649.7 L1470.7,645.1 L1473.8,640.5 L1477.0,635.7 L1480.1,630.9 L1483.2,626.1 L1486.4,621.1 L1489.5,616.1 L1492.6,611.0 L1495.8,605.8 L1498.9,600.5 L1502.0,595.2 L1505.1,589.8 L1508.3,584.3 L1511.4,578.7 L1514.5,573.1 L1517.7,567.3 L1520.8,561.5 L1523.9,555.7 L1527.1,549.7 L1530.2,543.7 L1533.3,537.6 L1536.5,531.4 L1539.6,525.2 L1542.7,518.9 L1545.9,512.5 L1549.0,506.0 L1552.1,499.5 L1555.3,492.9 L1558.4,486.3 L1561.5,479.6 L1564.7,472.9 L1567.8,466.1 L1570.9,459.2 L1574.1,452.3 L1577.2,445.4 L1580.3,438.4 L1583.5,431.4 L1586.6,424.3 L1589.7,417.3 L1592.9,410.2 L1596.0,403.1 L1599.1,395.9 L1602.3,388.8 L1605.4,381.7 L1608.5,374.5 L1611.6,367.4 L1614.8,360.3 L1617.9,353.2 L1621.0,346.1 L1624.2,339.1 L1627.3,332.1 L1630.4,325.2 L1633.6,318.3 L1636.7,311.5 L1639.8,304.8 L1643.0,298.1 L1646.1,291.6 L1649.2,285.1 L1652.4,278.7 L1655.5,272.5 L1658.6,266.4 L1661.8,260.4 L1664.9,254.5 L1668.0,248.8 L1671.2,243.3 L1674.3,237.9 L1677.4,232.7 L1680.6,227.7 L1683.7,222.9 L1714.4,187.1 L1748.6,178.0 L1781.6,196.0 L1815.3,248.8 L1818.4,254.5 L1821.5,260.4 L1824.7,266.4 L1827.8,272.5 L1830.9,278.7 L1834.0,285.1 L1837.2,291.6 L1840.3,298.1 L1843.4,304.8 L1846.6,311.5 L1849.7,318.3 L1852.8,325.2 L1856.0,332.1 L1859.1,339.1 L1862.2,346.1 L1865.4,353.2 L1868.5,360.3 L1871.6,367.4 L1874.8,374.5 L1877.9,381.7 L1881.0,388.8 L1884.2,395.9 L1887.3,403.1 L1890.4,410.2 L1893.6,417.3 L1896.7,424.3 L1899.8,431.4 L1903.0,438.4 L1906.1,445.4 L1909.2,452.3 L1912.4,459.2 L1915.5,466.1 L1918.6,472.9 L1921.8,479.6 L1924.9,486.3 L1928.0,492.9 L1931.2,499.5 L1934.3,506.0 L1937.4,512.5 L1940.6,518.9 L1943.7,525.2 L1946.8,531.4 L1949.9,537.6 L1953.1,543.7 L1956.2,549.7 L1959.3,555.7 L1962.5,561.5 L1965.6,567.3 L1968.7,573.1 L1971.9,578.7 L1975.0,584.3 L1978.1,589.8 L1981.3,595.2 L1984.4,600.5 L1987.5,605.8 L1990.7,611.0 L1993.8,616.1 L1996.9,621.1 L2000.1,626.1 L2003.2,630.9 L2006.3,635.7 L2009.5,640.5 L2012.6,645.1 L2015.7,649.7 L2018.9,654.2 L2022.0,658.6 L2025.1,662.9 L2028.3,667.2 L2031.4,671.4 L2034.5,675.6 L2037.7,679.6 L2040.8,683.6 L2043.9,687.5 L2047.1,691.4 L2050.2,695.2 L2053.3,698.9 L2056.5,702.6 L2059.6,706.2 L2062.7,709.7 L2065.8,713.2 L2069.0,716.6 L2072.1,719.9 L2075.2,723.2 L2078.4,726.4 L2081.5,729.6 L2084.6,732.7 L2087.8,735.7 L2090.9,738.7 L2094.0,741.7 L2097.2,744.6 L2100.3,747.4 L2103.4,750.2 L2106.6,752.9 L2109.7,755.6 L2112.8,758.2 L2116.0,760.8 L2119.1,763.3 L2122.2,765.8 L2125.4,768.2 L2128.5,770.6 L2131.6,772.9 L2134.8,775.2 L2137.9,777.5 L2141.0,779.7 L2144.2,781.9 L2147.3,784.0 L2150.4,786.1 L2153.6,788.1 L2156.7,790.1 L2159.8,792.1 L2163.0,794.0 L2166.1,795.9 L2169.2,797.8 L2172.3,799.6 L2175.5,801.4 L2178.6,803.1 L2181.7,804.9 L2184.9,806.5 L2188.0,808.2 L2191.1,809.8 L2194.3,811.4 L2197.4,813.0 L2200.5,814.5 L2203.7,816.0 L2206.8,817.4 L2209.9,818.9 L2213.1,820.3 L2216.2,821.7 L2219.3,823.0 L2222.5,824.4 L2225.6,825.7 L2228.7,826.9 L2231.9,828.2 L2235.0,829.4 L2238.1,830.6 L2241.3,831.8 L2244.4,833.0 L2247.5,834.1 L2250.7,835.2 L2253.8,836.3 L2256.9,837.4 L2260.1,838.4 L2263.2,839.5 L2266.3,840.5 L2269.5,841.5 L2272.6,842.4 L2275.7,843.4 L2278.9,844.3 L2282.0,845.2 L2285.1,846.1 L2288.2,847.0 L2291.4,847.9 L2294.5,848.7 L2297.6,849.5 L2300.8,850.3 L2303.9,851.1 L2307.0,851.9 L2310.2,852.7 L2313.3,853.4 L2316.4,854.1 L2319.6,854.9 L2322.7,855.6 L2325.8,856.3 L2329.0,856.9 L2332.1,857.6 L2335.2,858.3 L2338.4,858.9 L2341.5,859.5 L2344.6,860.1 L2347.8,860.7 L2350.9,861.3 L2354.0,861.9 L2357.2,862.5 L2360.3,863.0 L2363.4,863.6 L2366.6,864.1 L2369.7,864.6 L2372.8,865.1 L2376.0,865.6 L2379.1,866.1 L2382.2,866.6 L2385.4,867.1 L2388.5,867.5 L2391.6,868.0 L2394.7,868.4 L2397.9,868.9 L2401.0,869.3 L2404.1,869.7 L2407.3,870.1 L2410.4,870.5 L2413.5,870.9 L2416.7,871.3 L2419.8,871.7 L2422.9,872.1 L2426.1,872.4 L2429.2,872.8 L2432.3,873.1 L2435.5,873.5 L2438.6,873.8 L2441.7,874.2 L2444.9,874.5 L2448.0,874.8 L2451.1,875.1 L2454.3,875.4 L2457.4,875.7 L2460.5,876.0 L2463.7,876.3 L2466.8,876.6 L2469.9,876.8 L2473.1,877.1 L2476.2,877.4 L2479.3,877.6 L2482.5,877.9 L2485.6,878.1 L2488.7,878.4 L2491.9,878.6 L2495.0,878.9 L2498.1,879.1 L2501.3,879.3 L2504.4,879.5 L2507.5,879.8 L2510.6,880.0 L2513.8,880.2 L2516.9,880.4 L2520.0,880.6 L2523.2,880.8 L2526.3,881.0 L2529.4,881.2 L2532.6,881.3 L2535.7,881.5 L2538.8,881.7 L2542.0,881.9 L2545.1,882.1 L2548.2,882.2 L2551.4,882.4 L2554.5,882.5 L2557.6,882.7 L2560.8,882.9 L2563.9,883.0 L2567.0,883.2 L2570.2,883.3 L2573.3,883.4 L2576.4,883.6 L2579.6,883.7 L2582.7,883.9 L2585.8,884.0 L2589.0,884.1 L2592.1,884.2 L2595.2,884.4 L2598.4,884.5 L2601.5,884.6 L2604.6,884.7 L2607.8,884.8 L2610.9,884.9 L2614.0,885.1 L2617.1,885.2 L2620.3,885.3 L2623.4,885.4 L2626.5,885.5 L2629.7,885.6 L2632.8,885.7 L2635.9,885.8 L2639.1,885.9 L2642.2,886.0 L2645.3,886.0 L2648.5,886.1 L2651.6,886.2 L2654.7,886.3 L2657.9,886.4 L2661.0,886.5 L2664.1,886.5 L2667.3,886.6 L2670.4,886.7 L2673.5,886.8 L2676.7,886.9 L2679.8,886.9 L2682.9,887.0 L2686.1,887.1 L2689.2,887.1 L2692.3,887.2 L2695.5,887.3 L2698.6,887.3 L2701.7,887.4 L2704.9,887.5 L2708.0,887.5 L2711.1,887.6 L2714.3,887.6 L2717.4,887.7 L2720.5,887.7 L2723.7,887.8 L2726.8,887.9 L2729.9,887.9 L2733.0,888.0 L2736.2,888.0 L2739.3,888.1 L2742.4,888.1 L2745.6,888.2 L2748.7,888.2 L2751.8,888.2 L2755.0,888.3 L2758.1,888.3 L2761.2,888.4 L2764.4,888.4 L2767.5,888.5 L2770.6,888.5 L2773.8,888.5 L2776.9,888.6 L2780.0,888.6 L2783.2,888.7 L2786.3,888.7 L2789.4,888.7 L2792.6,888.8 L2795.7,888.8 L2798.8,888.8 L2802.0,888.9 L2805.1,888.9 L2808.2,888.9 L2811.4,889.0 L2814.5,889.0 L2817.6,889.0 L2820.8,889.0 L2823.9,889.1 L2827.0,889.1 L2830.2,889.1 L2833.3,889.2 L2836.4,889.2 L2839.5,889.2 L2842.7,889.2 L2845.8,889.3 L2848.9,889.3 L2852.1,889.3 L2855.2,889.3 L2858.3,889.4 L2861.5,889.4 L2864.6,889.4 L2867.7,889.4 L2870.9,889.4 L2874.0,889.5 L2877.1,889.5 L2880.3,889.5 L2883.4,889.5 L2886.5,889.5 L2889.7,889.6 L2892.8,889.6 L2895.9,889.6 L2899.1,889.6 L2902.2,889.6" stroke="#35B158" transform="translate(0,-0.5)"/>
</g>
<g font-family='"Liberation Sans", sans-serif' fill="#000" stroke="#000" stroke-linejoin="round" style="font-kerning:none">
<text transform="translate(881.30,1894.00) scale(1,1.035)" text-anchor="middle" font-size="104.5" stroke-width="1.20">58</text>
<text transform="translate(1194.54,1894.00) scale(1,1.035)" text-anchor="middle" font-size="104.5" stroke-width="1.20">60</text>
<text transform="translate(1507.78,1894.00) scale(1,1.035)" text-anchor="middle" font-size="104.5" stroke-width="1.20">62</text>
<text transform="translate(1821.02,1894.00) scale(1,1.035)" text-anchor="middle" font-size="104.5" stroke-width="1.20">64</text>
<text transform="translate(2134.26,1894.00) scale(1,1.035)" text-anchor="middle" font-size="104.5" stroke-width="1.20">66</text>
<text transform="translate(2447.50,1894.00) scale(1,1.035)" text-anchor="middle" font-size="104.5" stroke-width="1.20">68</text>
<text transform="translate(2760.74,1894.00) scale(1,1.035)" text-anchor="middle" font-size="104.5" stroke-width="1.20">70</text>
<text transform="translate(593.50,1635.90) scale(1,1.035)" text-anchor="end" font-size="104.5" stroke-width="1.20">-4.0x10<tspan font-size="63.0" dy="-49.28" stroke-width="0.72">6</tspan></text>
<text transform="translate(593.50,1282.50) scale(1,1.035)" text-anchor="end" font-size="104.5" stroke-width="1.20">-2.0x10<tspan font-size="63.0" dy="-49.28" stroke-width="0.72">6</tspan></text>
<text transform="translate(593.50,575.70) scale(1,1.035)" text-anchor="end" font-size="104.5" stroke-width="1.20">2.0x10<tspan font-size="63.0" dy="-49.28" stroke-width="0.72">6</tspan></text>
<text transform="translate(593.50,222.30) scale(1,1.035)" text-anchor="end" font-size="104.5" stroke-width="1.20">4.0x10<tspan font-size="63.0" dy="-49.28" stroke-width="0.72">6</tspan></text>
<text transform="translate(591.50,923.30) scale(1,1.035)" text-anchor="end" font-size="104.5" stroke-width="1.20">0.0</text>
<text transform="translate(1727.50,2058.70)" text-anchor="middle" font-size="126.0" stroke-width="1.60">x (nm)</text>
<text transform="translate(124.00,1053.20) rotate(-90) scale(1,1.02)" text-anchor="start" font-size="126.0" stroke-width="1.60">J<tspan font-size="75.6" dy="42.16" stroke-width="0.96">S</tspan><tspan font-size="126.0" dy="-42.16" stroke-width="1.60"> (A/s)</tspan></text>
<rect transform="translate(124.00,1053.20) rotate(-90) scale(1,1.02)" x="22.76" y="-89.82" width="18.55" height="14.46" fill="#fff" stroke="none"/>
<text transform="translate(2507.50,294.80) scale(1,1.035)" text-anchor="start" font-size="104.5" stroke-width="1.20">J<tspan font-size="63.0" dy="33.82" stroke-width="0.72">S,x</tspan></text>
<rect transform="translate(2507.50,294.80) scale(1,1.035)" x="18.88" y="-74.50" width="15.47" height="11.99" fill="#fff" stroke="none"/>
<text transform="translate(2507.50,450.80) scale(1,1.035)" text-anchor="start" font-size="104.5" stroke-width="1.20">J<tspan font-size="63.0" dy="33.82" stroke-width="0.72">S,y</tspan></text>
<rect transform="translate(2507.50,450.80) scale(1,1.035)" x="18.88" y="-74.50" width="15.47" height="11.99" fill="#fff" stroke="none"/>
<text transform="translate(2507.50,606.80) scale(1,1.035)" text-anchor="start" font-size="104.5" stroke-width="1.20">J<tspan font-size="63.0" dy="33.82" stroke-width="0.72">S,z</tspan></text>
<rect transform="translate(2507.50,606.80) scale(1,1.035)" x="18.88" y="-74.50" width="15.47" height="11.99" fill="#fff" stroke="none"/>
</g>
<rect x="2234" y="187" width="428" height="481" fill="none" stroke="#000" stroke-width="4"/>
<line x1="2248" y1="259" x2="2480" y2="259" stroke="#06ABE3" stroke-width="8" stroke-linecap="round"/>
<line x1="2248" y1="415" x2="2480" y2="415" stroke="#DC4858" stroke-width="8" stroke-linecap="round"/>
<line x1="2248" y1="571" x2="2480" y2="571" stroke="#35B158" stroke-width="8" stroke-linecap="round"/>
</svg>
</body></html>
